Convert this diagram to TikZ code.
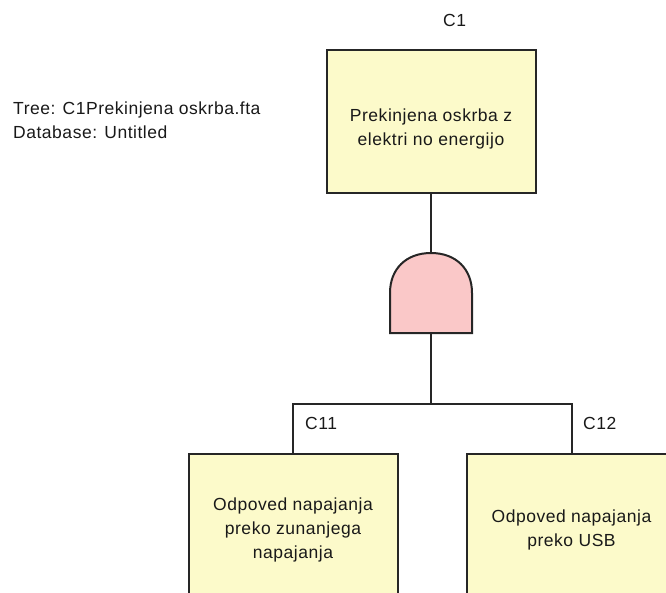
\documentclass[tikz,border=0pt]{standalone}
\usepackage{fontspec}
\setmainfont{Liberation Sans}[LetterSpace=3]
\definecolor{eventfill}{RGB}{252,250,202}
\definecolor{gatefill}{RGB}{250,200,200}
\definecolor{inkline}{RGB}{38,38,38}
\definecolor{inktext}{RGB}{25,25,25}
\begin{document}
\begin{tikzpicture}[x=1pt,y=-1pt,
  eventbox/.style={draw=inkline,line width=2pt,fill=eventfill,rectangle,inner sep=0pt,
    minimum width=209pt},
  boxtext/.style={align=center,text=inktext,font=\fontsize{17.5}{24}\selectfont,inner sep=0pt},
  idlabel/.style={anchor=west,text=inktext,font=\fontsize{17.5}{24}\selectfont,inner sep=0pt},
  wire/.style={draw=inkline,line width=2pt},
  andgate/.style={draw=inkline,line width=2pt,fill=gatefill,line join=miter}]
  \useasboundingbox (0,0) rectangle (666,592);
  \clip (0,0) rectangle (666,592);

  % header text
  \node[idlabel,align=left,anchor=west] (info) at (13,120)
    {Tree: C1Prekinjena oskrba.fta\\Database: Untitled};

  % top event
  \node[eventbox,minimum height=143pt] (top) at (431,121.5) {};
  \node[boxtext] (toptext) at (431,128.5) {Prekinjena oskrba z\\elektri no energijo};
  \node[idlabel] (c1lab) at (443,20) {C1};

  % AND gate
  \coordinate (gtop) at (431,253);
  \coordinate (gbot) at (431,333);
  \path[andgate] (390,333) -- (390,293)
    .. controls (390,269) and (406,253) .. (gtop)
    .. controls (456,253) and (472,269) .. (472,293)
    -- (472,333) -- cycle;

  % basic events
  \node[eventbox,minimum height=150pt] (c11) at (293,529) {};
  \node[boxtext] (c11text) at (293,530) {Odpoved napajanja\\preko zunanjega\\napajanja};
  \node[idlabel] (c11lab) at (305,423) {C11};

  \node[eventbox,minimum height=150pt] (c12) at (571.5,529) {};
  \node[boxtext] (c12text) at (571.5,530) {Odpoved napajanja\\preko USB};
  \node[idlabel] (c12lab) at (583,423) {C12};

  % connectors
  \coordinate (bar) at (431,404);
  \draw[wire] (top.south) -- (gtop);
  \draw[wire] (gbot) -- (bar);
  \draw[wire,line join=miter] (c11.north) |- (bar) -| (c12.north);
\end{tikzpicture}
\end{document}
